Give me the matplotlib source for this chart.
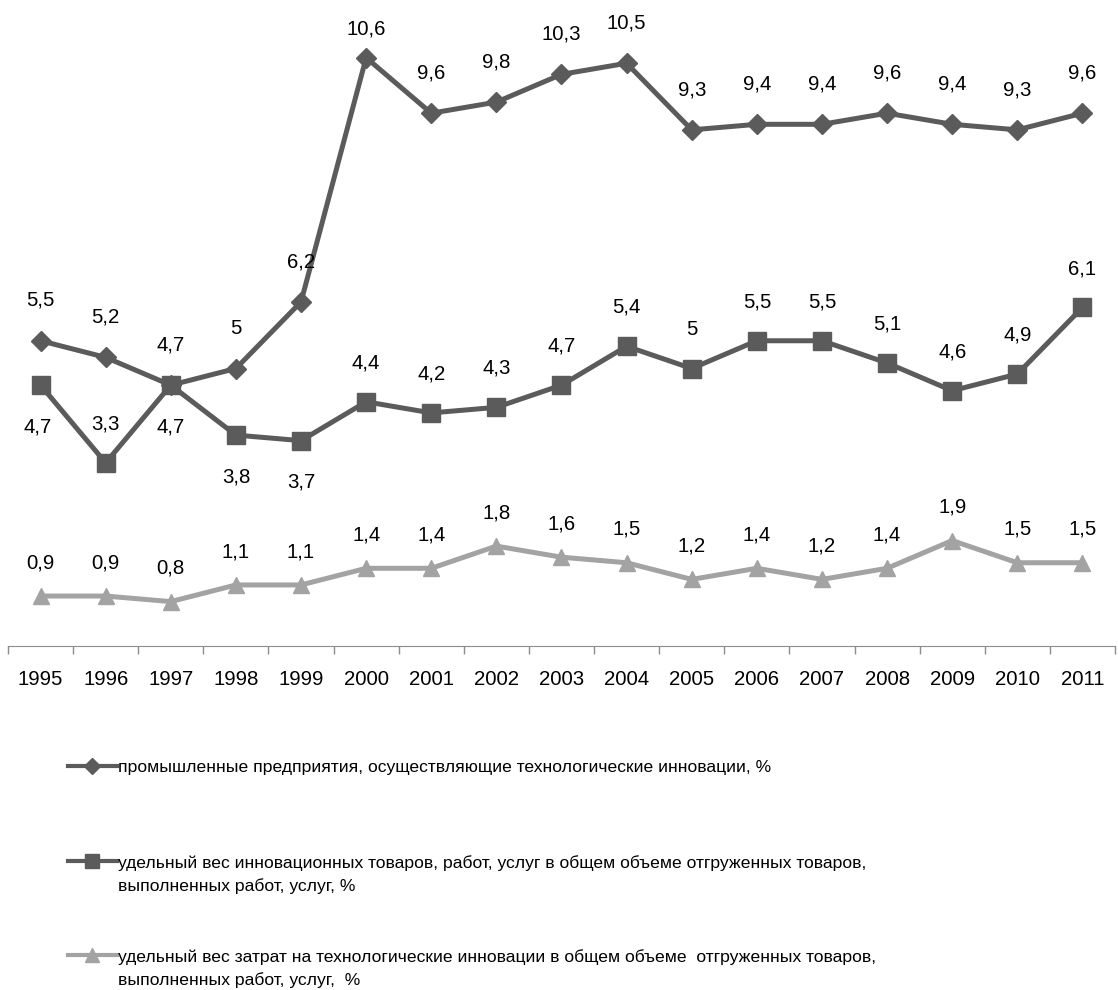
import matplotlib
matplotlib.use("Agg")
import matplotlib.pyplot as plt
from matplotlib.lines import Line2D

plt.rcParams["font.family"] = ["Liberation Sans", "DejaVu Sans"]

years = [str(y) for y in range(1995, 2012)]
predpr = [5.5, 5.2, 4.7, 5, 6.2, 10.6, 9.6, 9.8, 10.3, 10.5, 9.3, 9.4, 9.4, 9.6, 9.4, 9.3, 9.6]
ves_tov = [4.7, 3.3, 4.7, 3.8, 3.7, 4.4, 4.2, 4.3, 4.7, 5.4, 5, 5.5, 5.5, 5.1, 4.6, 4.9, 6.1]
ves_zatr = [0.9, 0.9, 0.8, 1.1, 1.1, 1.4, 1.4, 1.8, 1.6, 1.5, 1.2, 1.4, 1.2, 1.4, 1.9, 1.5, 1.5]

names = [
    "промышленные предприятия, осуществляющие технологические инновации, %",
    "удельный вес инновационных товаров, работ, услуг в общем объеме отгруженных товаров,\nвыполненных работ, услуг, %",
    "удельный вес затрат на технологические инновации в общем объеме  отгруженных товаров,\nвыполненных работ, услуг,  %",
]

# подписи второго ряда, которые стоят под точкой
below_idx = [0, 2, 3, 4]

c_dark = "#5b5b5b"
c_light = "#a3a3a3"
fs = 14.7


def fmt(v):
    return f"{v:g}".replace(".", ",")


fig = plt.figure(figsize=(11.18, 9.9), dpi=100)
ax = fig.add_axes([8 / 1118, 1 - 646 / 990, 1107 / 1118, 646 / 990])

x = list(range(len(years)))
ax.plot(x, predpr, color=c_dark, lw=3.6, marker="D", ms=10.5, clip_on=False)
ax.plot(x, ves_tov, color=c_dark, lw=3.6, marker="s", ms=13, clip_on=False)
ax.plot(x, ves_zatr, color=c_light, lw=3.6, marker="^", ms=12, clip_on=False)

for i, v in enumerate(predpr):
    dy = 21 if v == max(predpr) else 29
    ax.annotate(fmt(v), (i, v), xytext=(0, dy), textcoords="offset points",
                ha="center", va="center", fontsize=fs)
for i, v in enumerate(ves_tov):
    dy = -30 if i in below_idx else 28
    ax.annotate(fmt(v), (i, v), xytext=(-2 if i == 0 else 0, dy), textcoords="offset points",
                ha="center", va="center", fontsize=fs)
for i, v in enumerate(ves_zatr):
    ax.annotate(fmt(v), (i, v), xytext=(0, 24), textcoords="offset points",
                ha="center", va="center", fontsize=fs)

ax.set_xlim(-0.5, len(years) - 0.5)
ax.set_ylim(0, 646 / 55.5)
ax.set_xticks(x)
ax.set_xticklabels(years, fontsize=fs)
ax.set_xticks([i - 0.5 for i in range(len(years) + 1)], minor=True)
ax.tick_params(axis="x", which="major", length=0, pad=17)
ax.tick_params(axis="x", which="minor", length=6, color="#8c8c8c", width=1)
ax.set_yticks([])
for s in ["left", "right", "top"]:
    ax.spines[s].set_visible(False)
ax.spines["bottom"].set_color("#8c8c8c")

# легенда
styles = [(c_dark, "D", 8), (c_dark, "s", 10), (c_light, "^", 10)]
ys = [766, 861, 955]
for (col, mk, ms), yy, name in zip(styles, ys, names):
    yf = 1 - yy / 990
    fig.add_artist(Line2D([68 / 1118, 117 / 1118], [yf, yf], color=col, lw=3,
                          transform=fig.transFigure))
    fig.add_artist(Line2D([92 / 1118], [yf], color=col, marker=mk, ms=ms,
                          transform=fig.transFigure))
    fig.text(118 / 1118, yf + 6 / 990, name, fontsize=12.6, ha="left", va="top",
             linespacing=1.6)

fig.savefig("out.png", dpi=100)
